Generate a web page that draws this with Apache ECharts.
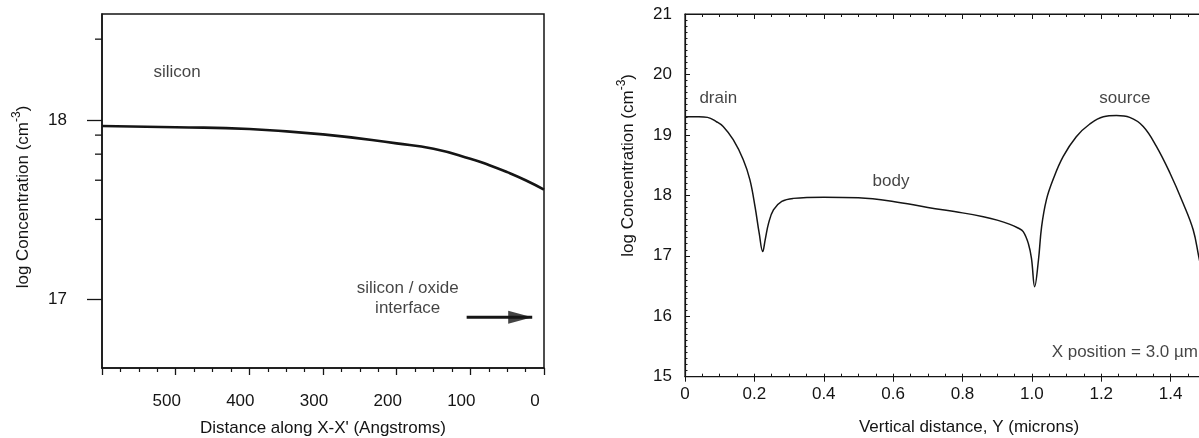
<!DOCTYPE html>
<html><head><meta charset="utf-8">
<script src="https://cdn.jsdelivr.net/npm/echarts@6/dist/echarts.min.js"></script>
<style>html,body{margin:0;padding:0;background:#fff}#c{width:1199px;height:438px}</style>
</head><body><div id="c"></div>
<script>
// ---- Left panel: concentration near the silicon / oxide interface ----
const leftDistance = [600, 500, 400, 300, 200, 150, 100, 75, 50, 25, 0];
const leftLogConc  = [17.967, 17.96, 17.95, 17.92, 17.87, 17.84, 17.785, 17.75, 17.71, 17.665, 17.613];
const leftXTickLabels = [0, 100, 200, 300, 400, 500];
const leftYTickLabels = [17, 18];
const leftYMinorTicks = [18.45, 17.916, 17.81, 17.665, 17.447];
const leftNotes = ['silicon', 'silicon / oxide\ninterface'];
const leftNotePos = [[498, 18.264], [185, 17.007]];
const arrowFrom = [105, 16.903];
const arrowTo = [16, 16.903];
const LEFT_X_MAX = 600;

// ---- Right panel: vertical profile at X = 3.0 um ----
const rightDepth = [0, 0.04, 0.065, 0.09, 0.11, 0.139, 0.168, 0.187, 0.202, 0.214, 0.224, 0.231, 0.241, 0.255, 0.279, 0.312,
  0.4, 0.5, 0.6, 0.7, 0.8, 0.86, 0.9, 0.937, 0.96, 0.975, 0.99, 0.999, 1.008, 1.019, 1.028, 1.042, 1.061, 1.09, 1.128,
  1.167, 1.206, 1.244, 1.282, 1.321, 1.359, 1.398, 1.436, 1.465, 1.481, 1.495];
const rightLogConc = [19.30, 19.30, 19.29, 19.22, 19.14, 18.92, 18.59, 18.26, 17.81, 17.37, 17.07, 17.26, 17.54, 17.76, 17.90, 17.95,
  17.97, 17.96, 17.90, 17.80, 17.71, 17.645, 17.59, 17.52, 17.46, 17.40, 17.20, 16.95, 16.49, 16.93, 17.48, 17.93, 18.26, 18.64, 18.97,
  19.18, 19.30, 19.32, 19.29, 19.14, 18.81, 18.37, 17.87, 17.43, 16.99, 16.6];
const rightNotes = ['drain', 'body', 'source'];
const rightNotePos = [[0.096, 19.61], [0.594, 18.24], [1.268, 19.61]];
const rightNoteLeft = ['X position = 3.0 µm'];
const rightNoteLeftPos = [[1.057, 15.41]];

const FONT = '"Liberation Sans", Arial, Helvetica, sans-serif';
const INK = '#151515';
const TXT = '#141414';
const txt = {fontFamily: FONT, fontSize: 17, color: TXT};
const yName = '{a|log Concentration (cm}{s|-3}{a|)}';
const yRich = {a: {fontFamily: FONT, fontSize: 17, color: TXT}, s: {fontFamily: FONT, fontSize: 12, color: TXT, padding: [0, 0, 12, 0]}};

const zip = (a, b) => a.map((v, i) => [v, b[i]]);
const notes = (names, pos) => names.map((n, i) => ({name: n, value: pos[i]}));

const chart = echarts.init(document.getElementById('c'), null, {renderer: 'canvas'});
chart.setOption({
  animation: false,
  backgroundColor: '#fff',
  grid: [
    {left: 102, top: 14, width: 442, height: 354, show: true, borderColor: INK, borderWidth: 1.5, outerBoundsMode: 'none', containLabel: false},
    {left: 685, top: 14, width: 555, height: 362.7, show: true, borderColor: INK, borderWidth: 1.2, outerBoundsMode: 'none', containLabel: false}
  ],
  xAxis: [
    {gridIndex: 0, type: 'value', inverse: true, min: 0, max: LEFT_X_MAX, interval: 100, position: 'bottom',
     axisLine: {onZero: false, lineStyle: {color: INK, width: 1.5}},
     axisTick: {length: 7, lineStyle: {color: INK, width: 1.3}},
     minorTick: {show: true, splitNumber: 4, length: 4, lineStyle: {color: INK, width: 1.2}},
     axisLabel: Object.assign({customValues: leftXTickLabels, margin: 25, padding: [0, 18, 0, 0]}, txt),
     splitLine: {show: false},
     name: "Distance along X-X' (Angstroms)", nameLocation: 'middle', nameGap: 52, nameTextStyle: txt},
    {gridIndex: 1, type: 'value', min: 0, max: 1.6, interval: 0.2, position: 'bottom',
     axisLine: {onZero: false, lineStyle: {color: INK, width: 1.2}},
     axisTick: {length: 5, lineStyle: {color: INK}},
     axisLabel: Object.assign({margin: 9, formatter: v => (v === 0 ? '0' : v.toFixed(1))}, txt),
     splitLine: {show: false},
     name: 'Vertical distance, Y (microns)', nameLocation: 'middle', nameGap: 42,
     nameTextStyle: Object.assign({padding: [0, 0, 0, 13]}, txt)},
    {gridIndex: 1, type: 'value', min: 0, max: 1.6, interval: 0.05, position: 'bottom',
     axisLine: {show: false}, axisTick: {inside: true, length: 3, lineStyle: {color: INK}},
     axisLabel: {show: false}, splitLine: {show: false}},
    {gridIndex: 1, type: 'value', min: 0, max: 1.6, interval: 0.2, position: 'top',
     axisLine: {onZero: false, lineStyle: {color: INK, width: 1.2}},
     axisTick: {inside: true, length: 5, lineStyle: {color: INK}},
     minorTick: {show: true, splitNumber: 4, length: 3, lineStyle: {color: INK}},
     axisLabel: {show: false}, splitLine: {show: false}}
  ],
  yAxis: [
    {gridIndex: 0, type: 'value', min: 16.62, max: 18.59, position: 'left',
     axisLine: {onZero: false, lineStyle: {color: INK, width: 1.5}},
     axisTick: {customValues: leftYTickLabels, length: 15, lineStyle: {color: INK, width: 1.3}},
     axisLabel: Object.assign({customValues: leftYTickLabels, margin: 35}, txt),
     splitLine: {show: false},
     name: yName, nameLocation: 'middle', nameGap: 67,
     nameTextStyle: {rich: yRich, padding: [0, 12, 0, 0]}},
    {gridIndex: 1, type: 'value', min: 15, max: 21, interval: 1, position: 'left',
     axisLine: {onZero: false, lineStyle: {color: INK, width: 1.2}},
     axisTick: {inside: true, length: 5, lineStyle: {color: INK}},
     minorTick: {show: true, splitNumber: 10, length: 2.5, lineStyle: {color: INK}},
     axisLabel: Object.assign({margin: 13}, txt),
     splitLine: {show: false},
     name: yName, nameLocation: 'middle', nameGap: 45,
     nameTextStyle: {rich: yRich, padding: [0, 0, 0, 60]}}
  ],
  series: [
    {type: 'line', xAxisIndex: 0, yAxisIndex: 0, data: zip(leftDistance, leftLogConc), smooth: true,
     showSymbol: false, lineStyle: {color: INK, width: 2.6}, silent: true},
    // minor ticks of the left y axis, drawn at the axis through the axis scale
    {type: 'custom', xAxisIndex: 0, yAxisIndex: 0, silent: true, clip: false,
     data: leftYMinorTicks.map(v => [LEFT_X_MAX, v]),
     renderItem: (params, api) => {
       const p = api.coord([api.value(0), api.value(1)]);
       return {type: 'line', shape: {x1: p[0] - 7, y1: p[1], x2: p[0], y2: p[1]},
               style: {stroke: INK, lineWidth: 1.3}};
     }},
    {type: 'line', xAxisIndex: 0, yAxisIndex: 0, data: [arrowFrom, arrowTo], showSymbol: false,
     lineStyle: {color: INK, width: 3}, silent: true},
    {type: 'scatter', xAxisIndex: 0, yAxisIndex: 0, data: [arrowTo], silent: true,
     symbol: 'path://M0,0L24,6.5L0,13Z', symbolSize: [24, 13], symbolOffset: [-12, 0],
     itemStyle: {color: INK}},
    {type: 'scatter', xAxisIndex: 0, yAxisIndex: 0, symbolSize: 0, silent: true,
     data: notes(leftNotes, leftNotePos),
     label: Object.assign({show: true, position: [0, 0], align: 'center', verticalAlign: 'middle', lineHeight: 20,
       formatter: p => p.name}, txt)},
    {type: 'line', xAxisIndex: 1, yAxisIndex: 1, data: zip(rightDepth, rightLogConc), smooth: 0.4,
     showSymbol: false, lineStyle: {color: INK, width: 1.5}, silent: true},
    {type: 'scatter', xAxisIndex: 1, yAxisIndex: 1, symbolSize: 0, silent: true,
     data: notes(rightNotes, rightNotePos),
     label: Object.assign({show: true, position: [0, 0], align: 'center', verticalAlign: 'middle',
       formatter: p => p.name}, txt)},
    {type: 'scatter', xAxisIndex: 1, yAxisIndex: 1, symbolSize: 0, silent: true,
     data: notes(rightNoteLeft, rightNoteLeftPos),
     label: Object.assign({show: true, position: [0, 0], align: 'left', verticalAlign: 'middle',
       formatter: p => p.name}, txt)}
  ]
});
</script></body></html>
